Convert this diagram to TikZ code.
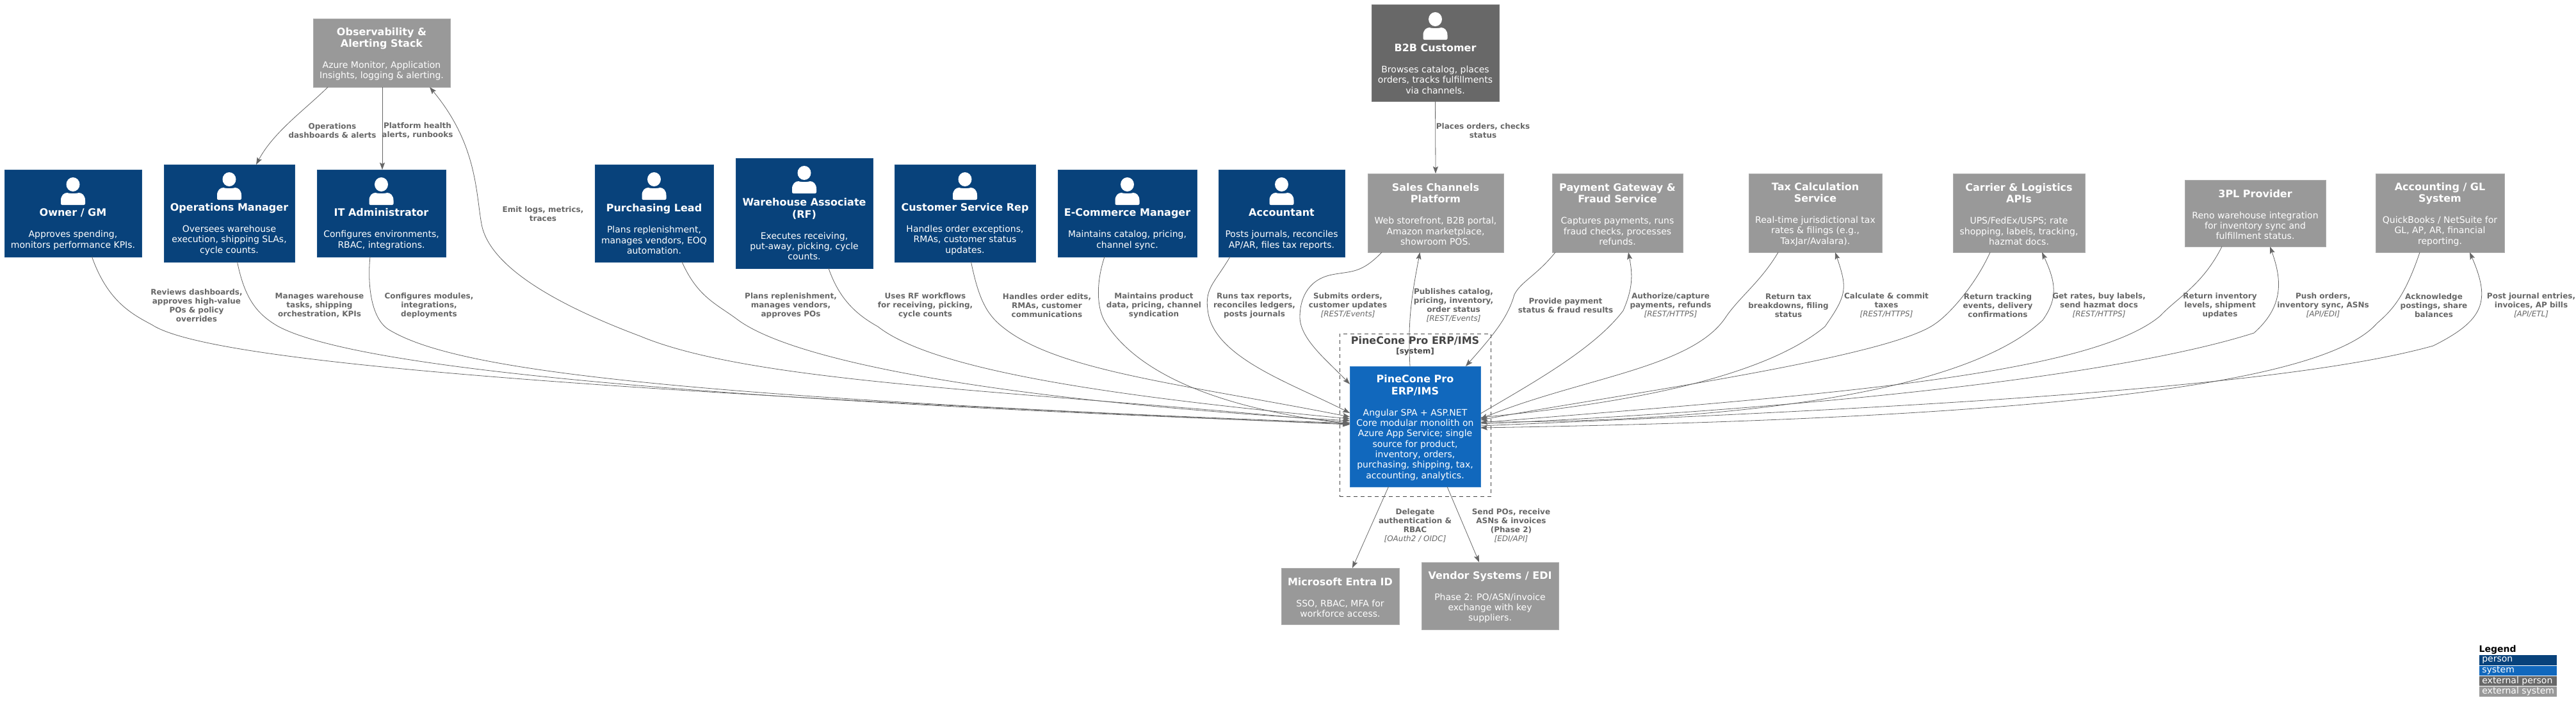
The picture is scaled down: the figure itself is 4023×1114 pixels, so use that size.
\documentclass[tikz,border=0pt]{standalone}
\usepackage{fontspec}
\setmainfont{DejaVu Sans}
\usetikzlibrary{arrows.meta}
\definecolor{cperson}{HTML}{08427B}
\definecolor{csystem}{HTML}{1168BD}
\definecolor{cextperson}{HTML}{686868}
\definecolor{cextsystem}{HTML}{999999}
\definecolor{cedge}{HTML}{666666}
\definecolor{cbound}{HTML}{444444}
\newcommand\ttl[1]{{\fontsize{16}{18}\selectfont\bfseries #1}}
\newcommand\tech[1]{{\mdseries\itshape #1}}
\newcommand\icongap{\rule{0pt}{43pt}\\[2.3pt]}
\newcommand\topgap{\rule{0pt}{16pt}}
\newcommand\tgap{\\[2.1pt]}
\newcommand\dgap{\\[16.7pt]}
\newcommand\legtext[1]{\makebox[112.4pt][l]{#1}}
\tikzset{
  c4box/.style={rectangle,inner sep=0pt,outer sep=0pt,align=center,text=white,line width=0.8pt,
    font=\fontsize{14}{16.3}\selectfont},
  personbox/.style={c4box,fill=cperson,draw=cperson!92!white},
  systembox/.style={c4box,fill=csystem,draw=csystem!85!white},
  extpersonbox/.style={c4box,fill=cextperson,draw=cextperson!90!white},
  extsystembox/.style={c4box,fill=cextsystem,draw=cextsystem!80!white},
  conn/.style={draw=cedge,line width=0.8pt,-{Stealth[length=11pt,width=8pt,inset=2pt,fill=cedge]}},
  lab/.style={text=cedge,align=center,inner sep=0pt,font=\fontsize{12}{14}\selectfont\bfseries},
  boundtitle/.style={text=cbound,align=center,inner sep=0pt},
  legendrow/.style={anchor=west,inner ysep=0pt,inner xsep=4.3pt,outer sep=0pt,text=white,minimum height=15.5pt,
    font=\fontsize{14}{16}\selectfont}
}
\newcommand\boxnode[7]{%
  \node[#2,minimum width={(#5-#3)*1pt},minimum height={(#6-#4)*1pt}] (#1) at ({(#3+#5)/2},{(#4+#6)/2}) {#7};}
\newcommand\personicon[1]{%
  \begin{scope}[shift={([yshift=-12pt]#1.north)}]
    \fill[white] (0,11) ellipse [x radius=10.5,y radius=11];
    \fill[white] (-17,43) .. controls (-18,43) and (-19,42) .. (-19,41) -- (-19,36)
      .. controls (-19,28) and (-14,24) .. (-9,24) .. controls (-6,25.5) and (6,25.5) .. (9,24)
      .. controls (14,24) and (19,28) .. (19,36) -- (19,41) .. controls (19,42) and (18,43) .. (17,43) -- cycle;
  \end{scope}}
\begin{document}
\begin{tikzpicture}[x=1pt,y=-1pt]
\useasboundingbox (0,0) rectangle (4023,1114);

% system boundary
\node[draw=cbound,line width=0.9pt,dash pattern=on 6pt off 5pt,minimum width=236.5pt,minimum height=254pt,inner sep=0pt] (boundary) at (2210.25,648) {};
\node[boundtitle,font=\fontsize{16}{18}\selectfont\bfseries] (boundaryTitle) at (2210,532.5) {PineCone Pro ERP/IMS};
\node[boundtitle,font=\fontsize{12}{14}\selectfont\bfseries] (boundaryTag) at (2210,549) {[system]};

% people
\boxnode{owner}{personbox}{7}{265}{221}{401}{\icongap\ttl{Owner / GM}\dgap Approves spending,\\monitors performance KPIs.}
\boxnode{ops}{personbox}{256}{257}{460}{409}{\icongap\ttl{Operations Manager}\dgap Oversees warehouse\\execution, shipping SLAs,\\cycle counts.}
\boxnode{itadmin}{personbox}{495}{265}{696}{401}{\icongap\ttl{IT Administrator}\dgap Configures environments,\\RBAC, integrations.}
\boxnode{purch}{personbox}{929}{257}{1114}{409}{\icongap\ttl{Purchasing Lead}\dgap Plans replenishment,\\manages vendors, EOQ\\automation.}
\boxnode{wh}{personbox}{1149}{247}{1363}{419}{\icongap\ttl{Warehouse Associate}\tgap\ttl{(RF)}\dgap Executes receiving,\\put-away, picking, cycle\\counts.}
\boxnode{csr}{personbox}{1397}{257}{1617}{409}{\icongap\ttl{Customer Service Rep}\dgap Handles order exceptions,\\RMAs, customer status\\updates.}
\boxnode{ecom}{personbox}{1652}{265}{1869}{401}{\icongap\ttl{E-Commerce Manager}\dgap Maintains catalog, pricing,\\channel sync.}
\boxnode{acct}{personbox}{1903}{265}{2100}{401}{\icongap\ttl{Accountant}\dgap Posts journals, reconciles\\AP/AR, files tax reports.}
\boxnode{b2b}{extpersonbox}{2142}{7}{2341}{158}{\icongap\ttl{B2B Customer}\dgap Browses catalog, places\\orders, tracks fulfillments\\via channels.}
\personicon{owner}\personicon{ops}\personicon{itadmin}\personicon{purch}\personicon{wh}\personicon{csr}\personicon{ecom}\personicon{acct}\personicon{b2b}

% systems
\boxnode{obs}{extsystembox}{489}{29}{703}{136}{\topgap\ttl{Observability \&}\tgap\ttl{Alerting Stack}\dgap Azure Monitor, Application\\Insights, logging \& alerting.}
\boxnode{sales}{extsystembox}{2136}{271}{2348}{394}{\topgap\ttl{Sales Channels}\tgap\ttl{Platform}\dgap Web storefront, B2B portal,\\Amazon marketplace,\\showroom POS.}
\boxnode{pay}{extsystembox}{2424}{271}{2628}{394}{\topgap\ttl{Payment Gateway \&}\tgap\ttl{Fraud Service}\dgap Captures payments, runs\\fraud checks, processes\\refunds.}
\boxnode{tax}{extsystembox}{2731}{271}{2939}{394}{\topgap\ttl{Tax Calculation}\tgap\ttl{Service}\dgap Real-time jurisdictional tax\\rates \& filings (e.g.,\\TaxJar/Avalara).}
\boxnode{carrier}{extsystembox}{3050}{271}{3256}{394}{\topgap\ttl{Carrier \& Logistics}\tgap\ttl{APIs}\dgap UPS/FedEx/USPS; rate\\shopping, labels, tracking,\\hazmat docs.}
\boxnode{tpl}{extsystembox}{3412}{281}{3632}{385}{\topgap\ttl{3PL Provider}\dgap Reno warehouse integration\\for inventory sync and\\fulfillment status.}
\boxnode{gl}{extsystembox}{3710}{271}{3911}{394}{\topgap\ttl{Accounting / GL}\tgap\ttl{System}\dgap QuickBooks / NetSuite for\\GL, AP, AR, financial\\reporting.}
\boxnode{pine}{systembox}{2108}{572}{2312}{760}{\topgap\ttl{PineCone Pro}\tgap\ttl{ERP/IMS}\dgap Angular SPA + ASP.NET\\Core modular monolith on\\Azure App Service; single\\source for product,\\inventory, orders,\\purchasing, shipping, tax,\\accounting, analytics.}
\boxnode{entra}{extsystembox}{2001}{887}{2185}{975}{\topgap\ttl{Microsoft Entra ID}\dgap SSO, RBAC, MFA for\\workforce access.}
\boxnode{vendor}{extsystembox}{2220}{878}{2434}{983}{\topgap\ttl{Vendor Systems / EDI}\dgap Phase 2: PO/ASN/invoice\\exchange with key\\suppliers.}

% connectors
\draw[conn] ([xshift=-84pt]obs.south) .. controls (478,170) and (428,205) .. ([xshift=42pt]ops.north);
\draw[conn] ([xshift=1pt]obs.south) -- ([xshift=1.5pt]itadmin.north);
\draw[conn] ([yshift=6pt]pine.west) .. controls (1600,610) and (1180,600) .. (1000,525)
  .. controls (880,480) and (765,420) .. (752,350) .. controls (743,300) and (745,225) .. ([xshift=75pt]obs.south);
\draw[conn] ([xshift=29.5pt]owner.south) .. controls (168,470) and (205,490) .. (237,507)
  .. controls (325,565) and (900,610) .. ([yshift=3pt]pine.west);
\draw[conn] ([xshift=12.5pt]ops.south) .. controls (382,465) and (400,490) .. (435,510)
  .. controls (540,565) and (950,620) .. ([yshift=4pt]pine.west);
\draw[conn] ([xshift=-17.5pt]itadmin.south) .. controls (574,440) and (578,495) .. (606,514)
  .. controls (700,572) and (980,618) .. ([yshift=5pt]pine.west);
\draw[conn] ([xshift=43.5pt]purch.south) .. controls (1090,465) and (1120,475) .. (1153,500)
  .. controls (1250,570) and (1600,628) .. ([yshift=9pt]pine.west);
\draw[conn] ([xshift=38pt]wh.south) .. controls (1310,465) and (1335,490) .. (1371,510)
  .. controls (1460,580) and (1750,620) .. ([yshift=12pt]pine.west);
\draw[conn] ([xshift=9.5pt]csr.south) .. controls (1528,465) and (1540,490) .. (1565,510)
  .. controls (1650,580) and (1850,600) .. ([yshift=15pt]pine.west);
\draw[conn] ([xshift=-35.5pt]ecom.south) .. controls (1712,440) and (1712,480) .. (1726,503)
  .. controls (1780,590) and (1920,640) .. ([yshift=4pt]pine.west);
\draw[conn] ([xshift=-80.5pt]acct.south) .. controls (1895,445) and (1880,450) .. (1887,490)
  .. controls (1900,560) and (2020,600) .. ([yshift=21pt]pine.west);
\draw[conn] (b2b.south) -- (sales.north);
\draw[conn] ([xshift=-84pt]sales.south) .. controls (2125,428) and (2110,423) .. (2080,429)
  .. controls (2040,437) and (2030,470) .. (2030,495) .. controls (2030,530) and (2075,565) .. ([yshift=66pt]pine.west);
\draw[conn] ([xshift=-8pt]pine.north) .. controls (2198,500) and (2205,460) .. ([xshift=-24.5pt]sales.south);
\draw[conn] ([xshift=-97pt]pay.south) .. controls (2400,430) and (2375,440) .. (2365,460)
  .. controls (2355,495) and (2335,520) .. ([xshift=79pt]pine.north);
\draw[conn] ([yshift=20pt]pine.east) .. controls (2390,600) and (2490,545) .. (2535,485)
  .. controls (2550,450) and (2550,430) .. ([xshift=17pt]pay.south);
\draw[conn] ([xshift=-58pt]tax.south) .. controls (2750,440) and (2715,465) .. (2694,497)
  .. controls (2640,575) and (2470,590) .. ([yshift=12pt]pine.east);
\draw[conn] ([yshift=14pt]pine.east) .. controls (2430,640) and (2730,610) .. (2850,510)
  .. controls (2885,460) and (2885,450) .. ([xshift=31pt]tax.south);
\draw[conn] ([xshift=-45pt]carrier.south) .. controls (3085,445) and (3045,490) .. (3023,505)
  .. controls (2950,560) and (2500,620) .. ([yshift=10pt]pine.east);
\draw[conn] ([yshift=7pt]pine.east) .. controls (2550,660) and (3040,640) .. (3190,500)
  .. controls (3215,465) and (3210,440) .. ([xshift=36pt]carrier.south);
\draw[conn] ([xshift=-52pt]tpl.south) .. controls (3440,445) and (3400,465) .. (3374,493)
  .. controls (3260,590) and (2800,620) .. ([yshift=6pt]pine.east);
\draw[conn] ([yshift=4pt]pine.east) .. controls (2800,640) and (3300,590) .. (3520,520)
  .. controls (3565,480) and (3565,440) .. ([xshift=23pt]tpl.south);
\draw[conn] ([xshift=-31.5pt]gl.south) .. controls (3755,465) and (3735,485) .. (3712,505)
  .. controls (3620,610) and (3100,655) .. ([yshift=-2pt]pine.east);
\draw[conn] ([yshift=1pt]pine.east) .. controls (2900,640) and (3550,610) .. (3800,540)
  .. controls (3880,500) and (3890,470) .. ([xshift=46.5pt]gl.south);
\draw[conn] ([xshift=-41.5pt]pine.south) -- ([xshift=19pt]entra.north);
\draw[conn] ([xshift=50pt]pine.south) -- ([xshift=-17pt]vendor.north);

% connector labels
\node[lab] (lOpsDash) at (519,204) {Operations\\dashboards \& alerts};
\node[lab] (lHealth) at (652,204) {Platform health\\alerts, runbooks};
\node[lab] (lEmit) at (848,334) {Emit logs, metrics,\\traces};
\node[lab] (lOwner) at (307,477) {Reviews dashboards,\\approves high-value\\POs \& policy\\overrides};
\node[lab] (lOps) at (499,477) {Manages warehouse\\tasks, shipping\\orchestration, KPIs};
\node[lab] (lIT) at (670,477) {Configures modules,\\integrations,\\deployments};
\node[lab] (lPurch) at (1235,477) {Plans replenishment,\\manages vendors,\\approves POs};
\node[lab] (lWh) at (1445,477) {Uses RF workflows\\for receiving, picking,\\cycle counts};
\node[lab] (lCsr) at (1635,477) {Handles order edits,\\RMAs, customer\\communications};
\node[lab] (lEcom) at (1802,477) {Maintains product\\data, pricing, channel\\syndication};
\node[lab] (lAcct) at (1959,477) {Runs tax reports,\\reconciles ledgers,\\posts journals};
\node[lab] (lB2b) at (2316,204) {Places orders, checks\\status};
\node[lab] (lSubmit) at (2105,477) {Submits orders,\\customer updates\\\tech{[REST/Events]}};
\node[lab] (lPublish) at (2270,477) {Publishes catalog,\\pricing, inventory,\\order status\\\tech{[REST/Events]}};
\node[lab] (lProvide) at (2445,477) {Provide payment\\status \& fraud results};
\node[lab] (lAuth) at (2609,477) {Authorize/capture\\payments, refunds\\\tech{[REST/HTTPS]}};
\node[lab] (lTaxRet) at (2793,477) {Return tax\\breakdowns, filing\\status};
\node[lab] (lCalc) at (2946,477) {Calculate \& commit\\taxes\\\tech{[REST/HTTPS]}};
\node[lab] (lTrack) at (3120,477) {Return tracking\\events, delivery\\confirmations};
\node[lab] (lRates) at (3278,477) {Get rates, buy labels,\\send hazmat docs\\\tech{[REST/HTTPS]}};
\node[lab] (lInv) at (3467,477) {Return inventory\\levels, shipment\\updates};
\node[lab] (lPush) at (3628,477) {Push orders,\\inventory sync, ASNs\\\tech{[API/EDI]}};
\node[lab] (lAck) at (3801,477) {Acknowledge\\postings, share\\balances};
\node[lab] (lJournal) at (3953,477) {Post journal entries,\\invoices, AP bills\\\tech{[API/ETL]}};
\node[lab] (lEntra) at (2210,821) {Delegate\\authentication \&\\RBAC\\\tech{[OAuth2 / OIDC]}};
\node[lab] (lVendor) at (2360,821) {Send POs, receive\\ASNs \& invoices\\(Phase 2)\\\tech{[EDI/API]}};

% legend
\node[anchor=west,inner sep=0pt,font=\fontsize{14}{16}\selectfont\bfseries] (legendTitle) at (3871.5,1015) {Legend};
\node[legendrow,fill=cperson] (legendPerson) at (3872,1031) {\legtext{person}};
\node[legendrow,fill=csystem] (legendSystem) at (3872,1047.5) {\legtext{system}};
\node[legendrow,fill=cextperson] (legendExtPerson) at (3872,1063.5) {\legtext{external person}};
\node[legendrow,fill=cextsystem] (legendExtSystem) at (3872,1080) {\legtext{external system}};
\end{tikzpicture}
\end{document}
